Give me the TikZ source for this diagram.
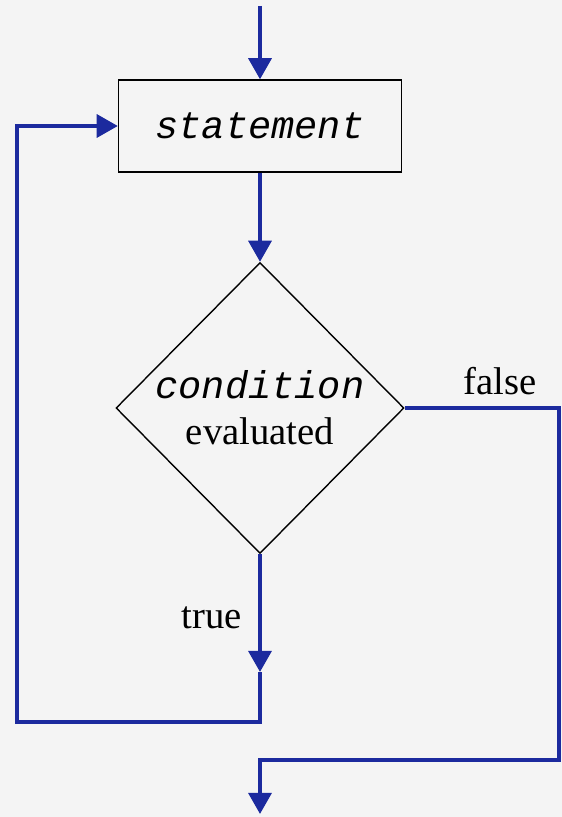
\documentclass[tikz,border=0pt]{standalone}
\usepackage{fontspec}
\setmainfont{Liberation Serif}
\setmonofont{Liberation Mono}
\usetikzlibrary{shapes.geometric,arrows.meta,positioning}
\definecolor{flowblue}{RGB}{28,42,158}
\definecolor{paper}{RGB}{244,244,244}

\begin{document}
\begin{tikzpicture}[
    every node/.style = {font = \fontsize{22}{26}\selectfont},
    stmtbox/.style = {
        draw, line width = 0.8pt, rectangle,
        minimum width = 5.66cm, minimum height = 1.84cm,
        font = \fontsize{22}{26}\selectfont\ttfamily\itshape
    },
    decision/.style = {
        draw, line width = 0.8pt, diamond, inner sep = 0pt,
        minimum width = 5.76cm, minimum height = 5.82cm,
        align = center
    },
    flow/.style = {
        draw = flowblue, line width = 2.2pt,
        -{Triangle[length = 12pt, width = 13pt]}
    },
    flowline/.style = {draw = flowblue, line width = 2.2pt}
]

\fill[paper] (0,0) rectangle (11.24,-16.34);
\useasboundingbox (0,0) rectangle (11.24,-16.34);

\coordinate (entry) at (5.2,-0.12);
\node[stmtbox] (statement) at (5.2,-2.52) {statement};
\node[decision] (condition) at (5.2,-8.16)
    {{\ttfamily\itshape condition}\\evaluated};

% loop back when true
\coordinate (truetip) at (5.2,-13.44);
\coordinate (truecorner) at (5.2,-14.44);
\coordinate (loopcorner) at (0.34,-14.44);
\coordinate (looptop) at (0.34,-2.52);

% exit when false
\coordinate (falsecorner) at (11.18,-8.16);
\coordinate (falsedown) at (11.18,-15.2);
\coordinate (exitcorner) at (5.2,-15.2);
\coordinate (exit) at (5.2,-16.28);

\draw[flow] (entry) -- (statement.north);
\draw[flow] (statement.south) -- (condition.north);
\draw[flow] (condition.south) -- (truetip);
\draw[flow, line join = miter] (truetip) -- (truecorner) -- (loopcorner)
    -- (looptop) -- (statement.west);
\draw[flow, line join = miter] (condition.east) -- (falsecorner)
    -- (falsedown) -- (exitcorner) -- (exit);

\node (truelabel) at (4.24,-12.36) {true};
\node (falselabel) at (10.0,-7.62) {false};

\end{tikzpicture}
\end{document}
